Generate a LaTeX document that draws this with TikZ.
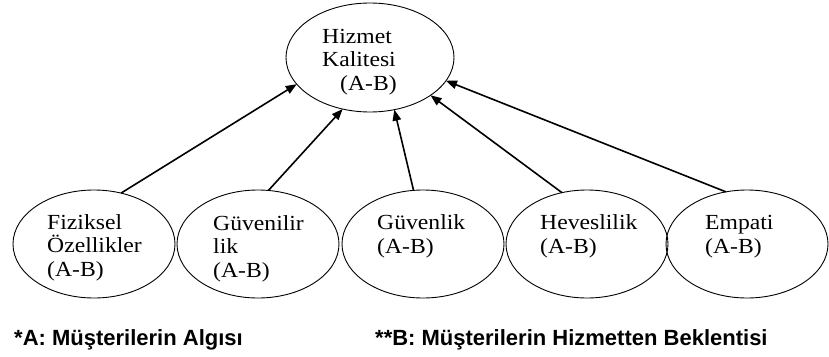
\documentclass[tikz,border=0pt]{standalone}
\usepackage{fontspec}
\setmainfont{Liberation Serif}[FakeStretch=1.1]
\newfontfamily\footfont{Liberation Sans}
\usetikzlibrary{shapes.geometric,arrows.meta}
\begin{document}
\begin{tikzpicture}[x=1pt,y=-1pt,
  oval/.style={ellipse,draw,line width=0.9pt,inner sep=0pt,outer sep=0pt},
  topoval/.style={oval,minimum width=168pt,minimum height=109pt},
  botoval/.style={oval,minimum width=162pt,minimum height=108pt},
  lab/.style={anchor=base west,align=left,inner sep=0pt,font=\fontsize{21.5}{23.5}\selectfont},
  foot/.style={anchor=base west,inner sep=0pt,font=\footfont\bfseries\fontsize{22}{24}\selectfont},
  arr/.style={-{Triangle[length=11pt,width=8.5pt]},line width=1.6pt}]
\useasboundingbox (0,0) rectangle (829,356);
\node[topoval] (top) at (370,57.5) {};
\node[botoval] (b1) at (94,244) {};
\node[botoval] (b2) at (258,244) {};
\node[botoval] (b3) at (423,244) {};
\node[botoval] (b4) at (587,244) {};
\node[botoval] (b5) at (747,244) {};
% multi-line nodes: base anchor sits on the last line
\node[lab] (t0) at (322,90) {Hizmet\\Kalitesi\\\hspace*{18pt}(A-B)};
\node[lab] (t1) at (47,276) {Fiziksel\\Özellikler\\(A-B)};
\node[lab] (t2) at (213,277) {Güvenilir\\lik\\(A-B)};
\node[lab] (t3) at (377,253) {Güvenlik\\(A-B)};
\node[lab] (t4) at (540,253) {Heveslilik\\(A-B)};
\node[lab] (t5) at (705,253) {Empati\\(A-B)};
\draw[arr] (b1.62.6) -- (top.200.7);
\draw[arr] (b2.79.5) -- (top.242.4);
\draw[arr] (b3.100.5) -- (top.295.1);
\draw[arr] (b4.116.6) -- (top.328.1);
\draw[arr] (b5.112.2) -- (top.343.4);
\node[foot] (fa) at (14,345) {*A: Müşterilerin Algısı};
\node[foot] (fb) at (375,345) {**B: Müşterilerin Hizmetten Beklentisi};
\end{tikzpicture}
\end{document}
